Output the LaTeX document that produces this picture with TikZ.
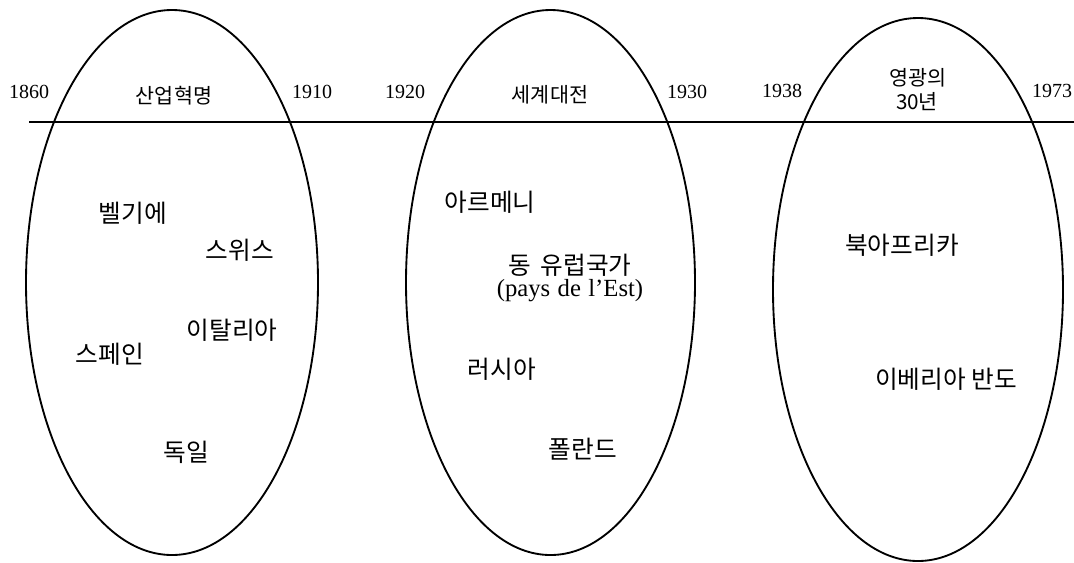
\documentclass[tikz,border=0pt]{standalone}
\usepackage{fontspec}
\setmainfont{Liberation Serif}
\newfontfamily\kr{Noto Sans CJK KR}
\usetikzlibrary{shapes.geometric}
\tikzset{
  oval/.style={draw, ellipse, line width=1.4pt, inner sep=0pt},
  year/.style={font=\fontsize{15}{17}\selectfont, inner sep=0pt},
  head/.style={font=\kr\fontsize{15.5}{18}\selectfont, inner sep=0pt, align=center},
  place/.style={font=\kr\fontsize{18.5}{21}\selectfont, inner sep=0pt, align=center},
}
\begin{document}
\begin{tikzpicture}[x=0.75pt, y=-0.75pt]
\useasboundingbox (0,0) rectangle (1074,562);
% ellipses
\node[oval, minimum width=219pt, minimum height=408.75pt] (e1) at (172,282.5) {};
\node[oval, minimum width=216.75pt, minimum height=408.75pt] (e2) at (550.5,282.5) {};
\node[oval, minimum width=217.5pt, minimum height=407.25pt] (e3) at (918,289.5) {};
% timeline
\coordinate (tl) at (29,122);
\coordinate (tr) at (1074,122);
\draw[line width=1.4pt] (tl) -- (tr);
% years
\node[year] (y1860) at (29,92) {1860};
\node[year] (y1910) at (312,92) {1910};
\node[year] (y1920) at (405,92) {1920};
\node[year] (y1930) at (687,92) {1930};
\node[year] (y1938) at (782,91) {1938};
\node[year] (y1973) at (1052,91) {1973};
% headings
\node[head] (h1) at (174,96) {산업혁명};
\node[head] (h2) at (550,95) {세계대전};
\node[head] (h3a) at (918,78) {영광의};
\node[head] (h3b) at (917,102) {30년};
% places
\node[place] (p1) at (133,213) {벨기에};
\node[place] (p2) at (240,250) {스위스};
\node[place] (p3) at (232,330) {이탈리아};
\node[place] (p4) at (110,354) {스페인};
\node[place] (p5) at (186,452) {독일};
\node[place] (p6) at (490,202) {아르메니};
\node[place] (p7) at (570,265) {동\hspace{0.4em}유럽국가};
\node[font=\fontsize{18.5}{21}\selectfont, inner sep=0pt] (p7b) at (570,291) {(pays\hspace{0.3em}de\hspace{0.3em}l’Est)};
\node[place] (p8) at (502,369) {러시아};
\node[place] (p9) at (583,449) {폴란드};
\node[place] (p10) at (902,245) {북아프리카};
\node[place] (p11) at (946,379) {이베리아 반도};
\end{tikzpicture}
\end{document}
